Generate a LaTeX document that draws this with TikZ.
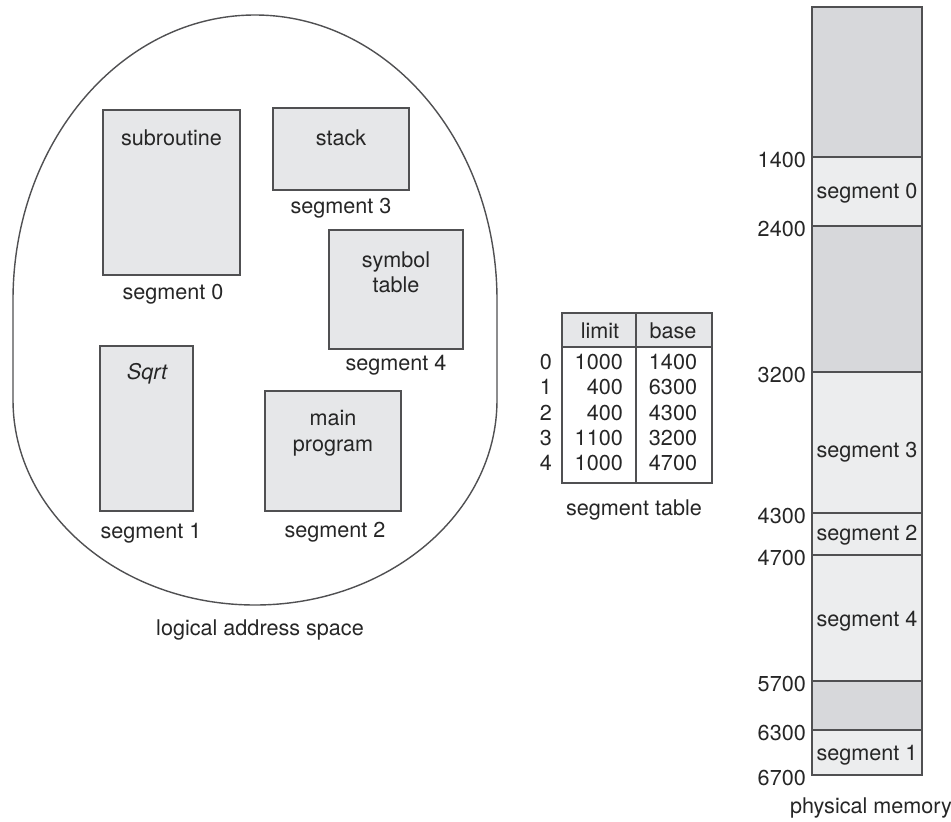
\documentclass[tikz,border=0pt]{standalone}
\usepackage{fontspec}
\setmainfont{TeX Gyre Heros}
\usetikzlibrary{positioning}
\definecolor{linegray}{RGB}{80,80,82}
\definecolor{boxgray}{RGB}{230,231,233}
\definecolor{memlight}{RGB}{236,237,238}
\definecolor{memdark}{RGB}{215,216,219}

\tikzset{
  segbox/.style={draw=linegray, fill=boxgray, line width=0.8pt, inner sep=0pt},
  txt/.style={font=\fontsize{12.3}{14.2}\selectfont, text=black!85, align=center},
  outline/.style={draw=linegray, line width=0.8pt}
}

\begin{document}
\begin{tikzpicture}[x=0.02cm, y=-0.02cm]
  \useasboundingbox (0,0) rectangle (951,822);

  % Logical address space
  \draw[outline] (13,300)
    arc[start angle=180, end angle=360, x radius=242, y radius=285]
    -- (497,400)
    arc[start angle=0, end angle=180, x radius=242, y radius=205]
    -- cycle;

  \node[segbox, minimum width=2.74cm, minimum height=3.3cm] (subr) at (171.5,192.5) {};
  \node[segbox, minimum width=2.72cm, minimum height=1.64cm] (stack) at (341,149) {};
  \node[segbox, minimum width=2.68cm, minimum height=2.38cm] (symtab) at (396,289.5) {};
  \node[segbox, minimum width=1.86cm, minimum height=3.3cm] (sqrt) at (146.5,428.5) {};
  \node[segbox, minimum width=2.72cm, minimum height=2.4cm] (mainprog) at (333,451) {};

  \node[txt] (subrtxt) at (171.5,138) {subroutine};
  \node[txt] (stacktxt) at (341,138) {stack};
  \node[txt] (symtxt) at (396,272) {symbol\\table};
  \node[txt] (sqrttxt) at (147,374) {\itshape Sqrt};
  \node[txt, font=\fontsize{12.3}{14.8}\selectfont] (maintxt) at (333,433) {main\\program};

  \node[txt] (lseg0) at (173,294) {segment 0};
  \node[txt] (lseg3) at (341,208) {segment 3};
  \node[txt] (lseg4) at (396,365) {segment 4};
  \node[txt] (lseg1) at (151,533) {segment 1};
  \node[txt] (lseg2) at (335,532) {segment 2};
  \node[txt] (lascap) at (260,630) {logical address space};

  % Segment table
  \fill[boxgray] (562,313) rectangle (712,347);
  \draw[outline] (562,313) rectangle (712,483);
  \draw[outline] (562,347) -- (712,347);
  \draw[outline] (636,313) -- (636,483);
  \node[txt] (limhead) at (600,331) {limit};
  \node[txt] (basehead) at (673,331) {base};
  \foreach \i/\lim/\bas in {0/1000/1400, 1/400/6300, 2/400/4300, 3/1100/3200, 4/1000/4700}{
    \pgfmathsetmacro\ypos{362+\i*25.3}
    \node[txt] (idx\i) at (546,\ypos) {\i};
    \node[txt, anchor=east] (lim\i) at (629,\ypos) {\lim};
    \node[txt] (base\i) at (673,\ypos) {\bas};
  }
  \node[txt] (stcap) at (634,510) {segment table};

  % Physical memory
  \foreach \top/\bot/\col in {7/157/memdark, 157/226/memlight, 226/372/memdark,
      372/513/memlight, 513/555/memlight, 555/681/memlight, 681/730/memdark,
      730/775/memlight}{
    \filldraw[outline, fill=\col] (812,\top) rectangle (922,\bot);
  }
  \foreach \addr/\ypos in {1400/157, 2400/226, 3200/372, 4300/513,
      4700/555, 5700/681, 6300/730, 6700/775}{
    \node[txt, anchor=east] (addr\addr) at (812,\ypos+3) {\addr};
  }
  \node[txt] (mseg0) at (867,193) {segment 0};
  \node[txt] (mseg3) at (867,452) {segment 3};
  \node[txt] (mseg2) at (867,535) {segment 2};
  \node[txt] (mseg4) at (867,621) {segment 4};
  \node[txt] (mseg1) at (867,755) {segment 1};
  \node[txt] (pmcap) at (871,808) {physical memory};
\end{tikzpicture}
\end{document}
